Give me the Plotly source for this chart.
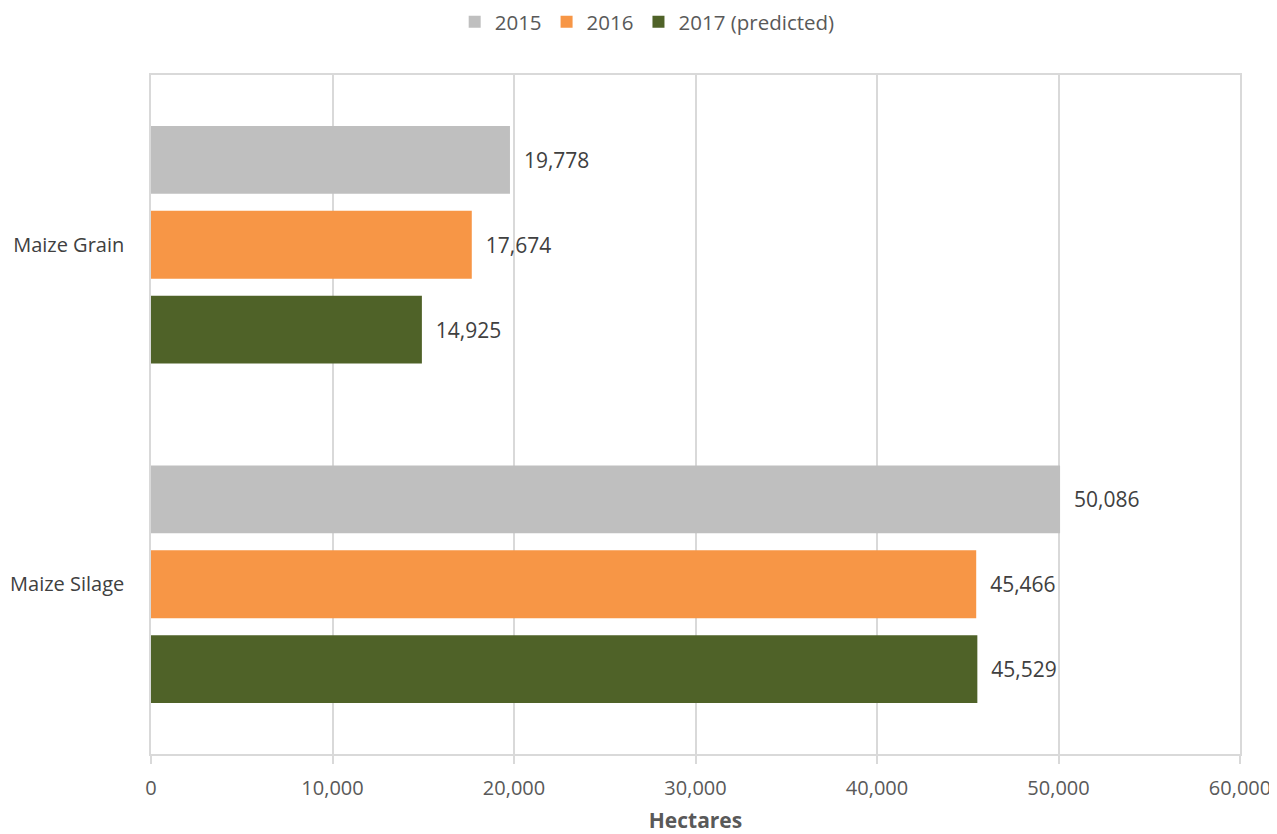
import plotly.graph_objects as go

categories = ["Maize Grain", "Maize Silage"]
series_names = ["2015", "2016", "2017 (predicted)"]
values_2015 = [19778, 50086]
values_2016 = [17674, 45466]
values_2017 = [14925, 45529]
colors = ["#BFBFBF", "#F79646", "#4F6228"]
x_ticks = [0, 10000, 20000, 30000, 40000, 50000, 60000]
x_tick_labels = ["0", "10,000", "20,000", "30,000", "40,000", "50,000", "60,000"]

font_family = "Open Sans, Liberation Sans, sans-serif"

fig = go.Figure()
for name, vals, col in zip(series_names, [values_2015, values_2016, values_2017], colors):
    fig.add_trace(go.Bar(
        y=categories, x=vals, name=name, orientation="h",
        marker=dict(color=col, line=dict(width=0)),
        text=["  " + f"{v:,}" for v in vals],
        textposition="outside",
        textfont=dict(family=font_family, size=21, color="#404040"),
        cliponaxis=False,
    ))

fig.update_layout(
    width=1269, height=826,
    margin=dict(l=143, r=37, t=67, b=80, autoexpand=False),
    paper_bgcolor="white", plot_bgcolor="white",
    barmode="group", bargap=0.25, bargroupgap=0.2,
    font=dict(family=font_family, color="#595959", size=21),
    legend=dict(orientation="h", xref="container", x=0.352, xanchor="left",
                yref="container", y=0.983, yanchor="middle",
                font=dict(size=20.5, color="#595959"),
                itemwidth=30, tracegroupgap=0),
    xaxis=dict(range=[0, 60000], tickvals=x_ticks, ticktext=x_tick_labels,
               automargin=False,
               showgrid=True, gridcolor="#D9D9D9", gridwidth=1.5,
               showline=True, linecolor="#D9D9D9", linewidth=1.5, mirror=True,
               ticks="outside", ticklen=8, tickcolor="#D9D9D9", tickwidth=1.5,
               ticklabelstandoff=7, zeroline=False,
               tickfont=dict(size=20, color="#595959"),
               title=dict(text="<b>Hectares</b>", font=dict(size=21, color="#595959"), standoff=23)),
    yaxis=dict(autorange="reversed", showgrid=False, automargin=False,
               showline=True, linecolor="#D9D9D9", linewidth=1.5, mirror=True,
               ticks="", ticklabelstandoff=21,
               tickfont=dict(size=20, color="#404040")),
)

fig.write_html("out.html")
